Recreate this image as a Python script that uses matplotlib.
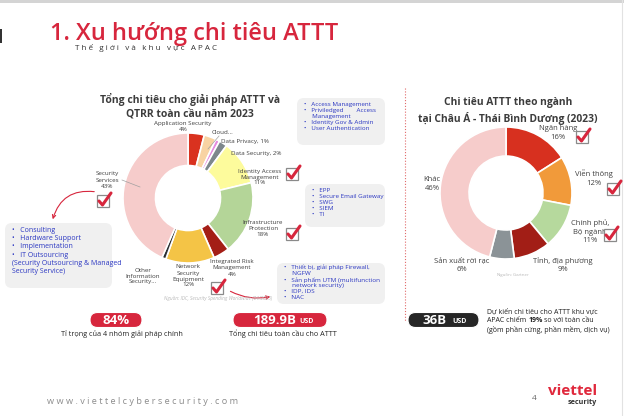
import matplotlib.pyplot as plt
from matplotlib.patches import FancyBboxPatch, Rectangle, FancyArrowPatch

plt.rcParams['font.family'] = ['Open Sans', 'DejaVu Sans']

# global spending by solution group, 2023 (%)
left_names = ["Application Security", "Cloud", "Data Privacy", "Data Security",
              "Identity Access Management", "Infrastructure Protection",
              "Integrated Risk Management", "Network Security Equipment",
              "Other Information Security", "Security Services"]
left_values = [4, 3, 1, 2, 11, 18, 4, 12, 1, 43]
left_texts = ["Application Security\n4%", "Cloud...", "Data Privacy, 1%", "Data Security, 2%",
              "Identity Access\nManagement\n11%", "Infrastructure\nProtection\n18%",
              "Integrated Risk\nManagement\n4%", "Network\nSecurity\nEquipment\n12%",
              "Other\nInformation\nSecurity...", "Security\nServices\n43%"]
left_colors = ["#d9321f", "#f8d3a3", "#e58ae0", "#7d878c", "#fdfb9c",
               "#b4d598", "#a41e16", "#f4c446", "#2b2f33", "#f6cccb"]

# APAC spending by sector, 2023 (%)
right_names = ["Ngân hàng", "Viễn thông", "Chính phủ, Bộ ngành", "Tỉnh, địa phương",
               "Sản xuất rời rạc", "Khác"]
right_values = [16, 12, 11, 9, 6, 46]
right_texts = ["Ngân hàng\n16%", "Viễn thông\n12%", "Chính phủ,\nBộ ngành\n11%",
               "Tỉnh, địa phương\n9%", "Sản xuất rời rạc\n6%", "Khác\n46%"]
right_colors = ["#d7301f", "#f19a3a", "#b6d99d", "#a21e16", "#8b9397", "#f6cccb"]

W, H = 624, 416
RED = "#d7263d"
BLUE = "#2b37c2"
GREY = "#404040"

fig = plt.figure(figsize=(W / 100, H / 100), dpi=100)
bg = fig.add_axes([0, 0, 1, 1])
bg.set_xlim(0, W); bg.set_ylim(H, 0); bg.axis('off')


def px_axes(cx, cy, r):
    a = fig.add_axes([(cx - r) / W, (H - cy - r) / H, 2 * r / W, 2 * r / H])
    return a


# donuts
ax1 = px_axes(188, 198, 65)
ax1.pie(left_values, colors=left_colors, startangle=90, counterclock=False,
        wedgeprops=dict(width=0.5, edgecolor='white', linewidth=1.2))
ax1.set_xlim(-1, 1); ax1.set_ylim(-1, 1); ax1.axis('off')

ax2 = px_axes(506, 193, 66)
ax2.pie(right_values, colors=right_colors, startangle=90, counterclock=False,
        wedgeprops=dict(width=0.44, edgecolor='white', linewidth=1.2))
ax2.set_xlim(-1, 1); ax2.set_ylim(-1, 1); ax2.axis('off')

fg = fig.add_axes([0, 0, 1, 1])
fg.set_xlim(0, W); fg.set_ylim(H, 0); fg.axis('off')
fg.patch.set_visible(False)

# frame bits
bg.add_patch(Rectangle((0, 0), W, 2.5, color="#d4d4d4", lw=0))
bg.add_patch(Rectangle((0, 29), 2, 14, color="#333333", lw=0))
bg.plot([622, 622], [0, 416], color="#e2e2e2", lw=0.8)
bg.plot([405, 405], [88, 322], color="#e06a6a", lw=0.8, ls=(0, (1, 1.6)))


def spaced(s, sep="\u2009"):
    return sep.join(s)


fg.text(50, 40, "1. Xu hướng chi tiêu ATTT", color=RED, fontsize=17, fontweight='semibold', va='baseline')
fg.text(75, 48.5, spaced("Thế giới và khu vực APAC", "\u2009\u200a"), color="#333333", fontsize=5.8, va='center')

# chart titles
fg.text(190, 106, "Tổng chi tiêu cho giải pháp ATTT và\nQTRR toàn cầu năm 2023", ha='center',
        va='center', fontsize=7.5, fontweight='bold', color="#3c3c3c", linespacing=1.3)
fg.text(508, 111, "Chi tiêu ATTT theo ngành\ntại Châu Á - Thái Bình Dương (2023)", ha='center',
        va='center', fontsize=7.4, fontweight='bold', color="#3c3c3c", linespacing=1.35)

# slice labels
left_pos = [(183, 126.5), (222, 132), (245, 141), (256, 153), (260, 177), (263, 229),
            (232, 268), (188, 276), (143, 276), (107, 180)]
for t, (x, y) in zip(left_texts, left_pos):
    fg.text(x, y, t, ha='center', va='center', fontsize=4.5, color=GREY, linespacing=1.25)
fg.plot([122, 140], [180, 187], color="#a0a0a0", lw=0.5)
fg.plot([219, 208], [136, 149], color="#a0a0a0", lw=0.5)
fg.text(218, 298, "Nguồn: IDC, Security Spending Worldwide (04/2023)", ha='center', va='center',
        fontsize=3.4, color="#b8b8b8", style='italic')

right_pos = [(558, 133), (594, 178), (590, 232), (563, 265), (462, 265), (432, 184)]
for t, (x, y) in zip(right_texts, right_pos):
    fg.text(x, y, t, ha='center', va='center', fontsize=5.5, color=GREY, linespacing=1.3)
fg.text(513, 275, "Nguồn: Gartner", ha='center', va='center', fontsize=3.2, color="#b8b8b8")


def checkbox(x, y):
    fg.add_patch(Rectangle((x - 6, y - 5), 12, 12, fc='white', ec="#8a8a8a", lw=0.9, zorder=5))
    fg.plot([x - 4, x - 0.5, x + 8], [y + 1, y + 5, y - 7], color=RED, lw=2.2,
            solid_capstyle='round', solid_joinstyle='round', zorder=6)


for cx, cy in [(103, 200), (292, 173), (292, 233), (217, 287), (582, 136), (613, 188), (610, 234)]:
    checkbox(cx, cy)


def infobox(x0, y0, x1, y1, lines, fs=4.5, top=4, ls=1.25):
    fg.add_patch(FancyBboxPatch((x0, y0), x1 - x0, y1 - y0,
                                boxstyle="round,pad=0,rounding_size=7",
                                fc="#f0f0f0", ec='none', zorder=1))
    fg.text(x0 + 7, y0 + top, "\n".join(lines), ha='left', va='top', fontsize=fs,
            color=BLUE, linespacing=ls, zorder=2)


infobox(297, 98, 385, 145, ["•   Access Management", "•   Priviledged        Access",
                            "     Management", "•   Identity Gov & Admin", "•   User Authentication"])
infobox(305, 184, 385, 227, ["•   EPP", "•   Secure Email Gateway", "•   SWG", "•   SIEM", "•   TI"])
infobox(277, 263, 385, 304, ["•   Thiết bị, giải pháp Firewall,", "     NGFW",
                             "•   Sản phẩm UTM (multifunction", "     network security)",
                             "•   IDP, IDS", "•   NAC"], fs=4.6, top=1.5, ls=1.2)
infobox(5, 223, 112, 288, ["•   Consulting", "•   Hardware Support", "•   Implementation",
                           "•   IT Outsourcing", "(Security Outsourcing & Managed",
                           "Security Service)"], fs=5.0)

# arrows
fg.add_patch(FancyArrowPatch((97, 192), (52, 222), connectionstyle="arc3,rad=0.45",
                             arrowstyle='->', mutation_scale=6, color=RED, lw=0.8))
fg.add_patch(FancyArrowPatch((228, 290), (273, 296), connectionstyle="arc3,rad=0.2",
                             arrowstyle='->', mutation_scale=6, color=RED, lw=0.8))


def pill(x0, x1, yc, h, color):
    fg.add_patch(FancyBboxPatch((x0, yc - h / 2), x1 - x0, h,
                                boxstyle="round,pad=0,rounding_size=%g" % (h / 2),
                                fc=color, ec='white', lw=0.8))


pill(90, 142, 320, 15, RED)
fg.text(116, 320.5, "84%", ha='center', va='center', color='white', fontsize=9.5, fontweight='bold')
fg.text(122, 334, "Tỉ trọng của 4 nhóm giải pháp chính", ha='center', va='center', fontsize=5.2, color="#222222")

pill(233, 327, 320, 15, RED)
fg.text(296, 320.5, "189.9B", ha='right', va='center', color='white', fontsize=9.5, fontweight='bold')
fg.text(299, 321.5, "USD", ha='left', va='center', color='white', fontsize=5, fontweight='bold')
fg.text(283, 334, "Tổng chi tiêu toàn cầu cho ATTT", ha='center', va='center', fontsize=5.2, color="#222222")

pill(408, 479, 320, 15, "#262626")
fg.text(447, 320.5, "36B", ha='right', va='center', color='white', fontsize=9.5, fontweight='bold')
fg.text(452, 321.5, "USD", ha='left', va='center', color='white', fontsize=5, fontweight='bold')

r = fig.canvas.get_renderer()
fg.text(487, 312, "Dự kiến chi tiêu cho ATTT khu vực", ha='left', va='center', fontsize=5, color="#222222")
xx = 487
for s, w in [("APAC chiếm", 'normal'), ("19%", 'bold'), ("so với toàn cầu", 'normal')]:
    t = fg.text(xx, 321, s, ha='left', va='center', fontsize=5, color="#222222", fontweight=w)
    xx += t.get_window_extent(r).width + 2
fg.text(487, 330, "(gồm phần cứng, phần mềm, dịch vụ)", ha='left', va='center', fontsize=5, color="#222222")

# footer
fg.text(47, 401, spaced("www.viettelcybersecurity.com", "\u2009\u200a"), ha='left', va='center',
        fontsize=6.6, color="#8c8c8c")
fg.text(534, 398, "4", ha='center', va='center', fontsize=6, color="#666666")
fg.text(597, 391, "viettel", ha='right', va='center', fontsize=11, color="#e0283c", fontweight='bold')
fg.text(597, 402, "security", ha='right', va='center', fontsize=5.2, color="#333333", fontweight='bold')

fig.savefig("out.png", dpi=100)
